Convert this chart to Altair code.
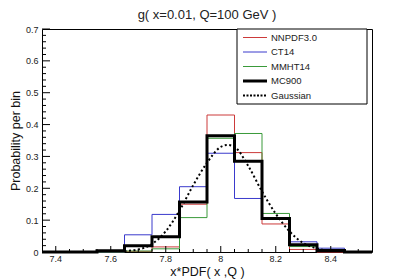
import altair as alt
import pandas as pd

# ---------------- data ----------------
bin_lo = [7.35, 7.45, 7.55, 7.65, 7.75, 7.85, 7.95, 8.05, 8.15, 8.25, 8.35, 8.45]
x_end = 8.55

series_names = ["NNPDF3.0", "CT14", "MMHT14", "MC900"]
nnpdf = [0, 0, 0, 0.002, 0.016, 0.150, 0.430, 0.312, 0.088, 0.008, 0, 0]
ct14 = [0, 0, 0, 0.054, 0.118, 0.205, 0.310, 0.168, 0.105, 0.032, 0.012, 0]
mmht = [0, 0, 0, 0.003, 0.010, 0.108, 0.357, 0.372, 0.121, 0.017, 0.008, 0]
mc900 = [0, 0, 0.004, 0.020, 0.048, 0.157, 0.365, 0.285, 0.105, 0.023, 0.005, 0]

gauss_x = [7.65, 7.70, 7.75, 7.80, 7.85, 7.90, 7.95, 8.00, 8.025, 8.05, 8.10,
           8.15, 8.20, 8.25, 8.30, 8.35, 8.40]
gauss_y = [0.003, 0.008, 0.025, 0.065, 0.130, 0.210, 0.280, 0.330, 0.336, 0.330,
           0.270, 0.190, 0.120, 0.065, 0.028, 0.011, 0.003]

x_major = [7.4, 7.6, 7.8, 8.0, 8.2, 8.4]
x_tick_labels = ["7.4", "7.6", "7.8", "8", "8.2", "8.4"]
x_minor = [7.45, 7.5, 7.55, 7.65, 7.7, 7.75, 7.85, 7.9, 7.95, 8.05, 8.1, 8.15,
           8.25, 8.3, 8.35, 8.45, 8.5]
y_major = [0, 0.1, 0.2, 0.3, 0.4, 0.5, 0.6, 0.7]
y_minor = [0.02, 0.04, 0.06, 0.08, 0.12, 0.14, 0.16, 0.18, 0.22, 0.24, 0.26, 0.28,
           0.32, 0.34, 0.36, 0.38, 0.42, 0.44, 0.46, 0.48, 0.52, 0.54, 0.56, 0.58,
           0.62, 0.64, 0.66, 0.68]

title_text = "g( x=0.01, Q=100 GeV )"
x_title = "x*PDF( x ,Q )"
y_title = "Probability per bin"
gauss_name = "Gaussian"

# ---------------- styling ----------------
W, H = 330, 223
FONT = "Liberation Sans"
colors = {"NNPDF3.0": "#cc3a3a", "CT14": "#3a3acc", "MMHT14": "#3a9a3a", "MC900": "#000000"}
widths = {"NNPDF3.0": 1, "CT14": 1, "MMHT14": 1, "MC900": 3}

rows = []
for name, vals in zip(series_names, [nnpdf, ct14, mmht, mc900]):
    for lo, v in zip(bin_lo, vals):
        rows.append({"series": name, "x": lo, "y": v})
    rows.append({"series": name, "x": x_end, "y": vals[-1]})
hist = pd.DataFrame(rows)
gauss = pd.DataFrame({"x": gauss_x, "y": gauss_y})

xs = alt.Scale(domain=[bin_lo[0], x_end], nice=False, zero=False)
ys = alt.Scale(domain=[0, 0.7], nice=False, zero=True)

x_ax = alt.Axis(values=x_major, ticks=False, domain=False, grid=False, labels=False,
                title=x_title, titleFont=FONT, titleFontSize=12.5,
                titleFontWeight="normal", titleColor="#111",
                titleY=19, titleBaseline="middle")
y_ax = alt.Axis(values=y_major, format="~g", ticks=False, domain=False, grid=False,
                labelOverlap=False, labelBound=False, labelFlush=False,
                labelFont=FONT, labelFontSize=9, labelColor="#222", labelPadding=4,
                title=y_title, titleFont=FONT, titleFontSize=12.5,
                titleFontWeight="normal", titleColor="#111",
                titleX=-27, titleY=H / 2, titleBaseline="middle", titleAlign="center")


def XQ(field):
    return alt.X(f"{field}:Q", scale=xs, axis=x_ax)


def YQ(field):
    return alt.Y(f"{field}:Q", scale=ys, axis=y_ax)


layers = []
for name in series_names:
    layers.append(
        alt.Chart(hist).transform_filter(alt.datum.series == name)
        .mark_line(interpolate="step-after", color=colors[name], strokeWidth=widths[name],
                   strokeCap="butt", strokeJoin="miter")
        .encode(x=XQ("x"), y=YQ("y"))
    )

layers.append(
    alt.Chart(gauss).mark_line(color="black", strokeWidth=2, strokeDash=[2, 2.5],
                               interpolate="monotone")
    .encode(x=XQ("x"), y=YQ("y"))
)


# inward ticks
def tick_layer(vals, axis, length):
    df = pd.DataFrame({"v": vals})
    if axis == "x":
        return alt.Chart(df).mark_rule(color="black", strokeWidth=1).encode(
            x=XQ("v"), y=alt.value(H), y2=alt.value(H - length))
    return alt.Chart(df).mark_rule(color="black", strokeWidth=1).encode(
        y=YQ("v"), x=alt.value(0), x2=alt.value(length))


layers += [tick_layer(x_major, "x", 6), tick_layer(x_minor, "x", 3),
           tick_layer(y_major, "y", 8), tick_layer(y_minor, "y", 4)]

# x tick labels
layers.append(
    alt.Chart(pd.DataFrame({"v": x_major, "lab": x_tick_labels}))
    .mark_text(align="center", baseline="top", font=FONT, fontSize=9, color="#222")
    .encode(x=XQ("v"), y=alt.value(H + 3), text="lab:N")
)

# legend box
LX0, LX1, LY0, LY1 = 195, 325, 0, 75
layers.append(
    alt.Chart(pd.DataFrame({"a": [0]})).mark_rect(fill="white", stroke="black", strokeWidth=1)
    .encode(x=alt.value(LX0), x2=alt.value(LX1), y=alt.value(LY0), y2=alt.value(LY1))
)
leg_names = series_names + [gauss_name]
for i, name in enumerate(leg_names):
    yy = 8.5 + i * 14.5
    if name == gauss_name:
        mk = alt.Chart(pd.DataFrame({"a": [0]})).mark_rule(color="black", strokeWidth=2,
                                                            strokeDash=[2, 1.5])
    else:
        mk = alt.Chart(pd.DataFrame({"a": [0]})).mark_rule(color=colors[name],
                                                            strokeWidth=widths[name])
    layers.append(mk.encode(x=alt.value(LX0 + 6), x2=alt.value(LX0 + 30), y=alt.value(yy)))
    layers.append(
        alt.Chart(pd.DataFrame({"t": [name]})).mark_text(
            align="left", baseline="middle", font=FONT, fontSize=9.5, color="#222")
        .encode(x=alt.value(LX0 + 34), y=alt.value(yy), text="t:N")
    )

chart = alt.layer(*layers).properties(
    width=W, height=H,
    title=alt.TitleParams(title_text, font=FONT, fontSize=13, fontWeight="normal",
                          color="#222", anchor="middle", offset=6, dy=3),
    autosize=alt.AutoSizeParams(type="none"),
    padding={"left": 34, "top": 21, "right": 33, "bottom": 28},
).configure_view(stroke="black", strokeWidth=1)

chart.save("out.html", embed_options={"renderer": "svg", "actions": False})
